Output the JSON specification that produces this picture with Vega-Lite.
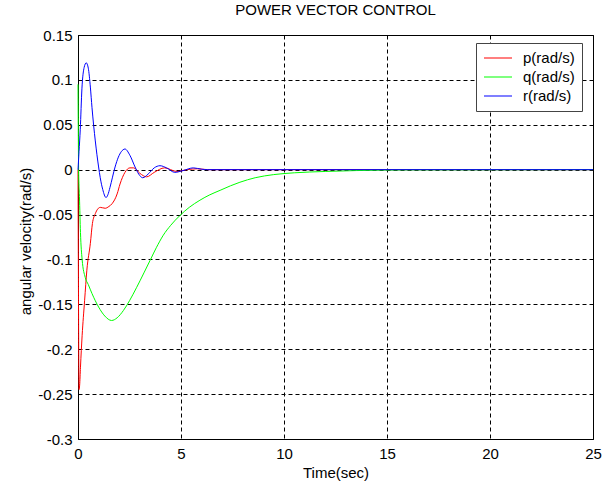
{
  "$schema": "https://vega.github.io/schema/vega-lite/v6.json",
  "autosize": {"type": "none"},
  "padding": {"left": 78, "top": 35, "right": 18, "bottom": 45},
  "width": 515,
  "height": 404,
  "background": "white",
  "title": {"text": "POWER VECTOR CONTROL", "fontSize": 15, "fontWeight": "normal", "font": "Liberation Sans", "color": "black", "offset": 10},
  "config": {
    "font": "Liberation Sans",
    "view": {"stroke": "black", "strokeWidth": 1},
    "axis": {
      "domainColor": "black", "gridColor": "black", "gridDash": [4, 3], "gridOpacity": 1, "gridWidth": 1,
      "ticks": false, "labelColor": "black", "titleColor": "black", "labelFontSize": 15, "titleFontSize": 15,
      "titleFontWeight": "normal", "labelFont": "Liberation Sans", "titleFont": "Liberation Sans"
    }
  },
  "datasets": {
    "curves": [
      {"t": 0, "v": 0, "s": "p(rad/s)"},
      {"t": 0.02, "v": -0.12, "s": "p(rad/s)"},
      {"t": 0.05, "v": -0.245, "s": "p(rad/s)"},
      {"t": 0.08, "v": -0.24, "s": "p(rad/s)"},
      {"t": 0.12, "v": -0.22, "s": "p(rad/s)"},
      {"t": 0.2, "v": -0.185, "s": "p(rad/s)"},
      {"t": 0.32, "v": -0.146, "s": "p(rad/s)"},
      {"t": 0.43, "v": -0.112, "s": "p(rad/s)"},
      {"t": 0.6, "v": -0.082, "s": "p(rad/s)"},
      {"t": 0.7, "v": -0.06, "s": "p(rad/s)"},
      {"t": 0.84, "v": -0.049, "s": "p(rad/s)"},
      {"t": 1.08, "v": -0.042, "s": "p(rad/s)"},
      {"t": 1.32, "v": -0.043, "s": "p(rad/s)"},
      {"t": 1.5, "v": -0.041, "s": "p(rad/s)"},
      {"t": 1.65, "v": -0.038, "s": "p(rad/s)"},
      {"t": 1.9, "v": -0.027, "s": "p(rad/s)"},
      {"t": 2.04, "v": -0.016, "s": "p(rad/s)"},
      {"t": 2.28, "v": -0.003, "s": "p(rad/s)"},
      {"t": 2.52, "v": 0.002, "s": "p(rad/s)"},
      {"t": 2.7, "v": 0.002, "s": "p(rad/s)"},
      {"t": 3.0, "v": -0.004, "s": "p(rad/s)"},
      {"t": 3.33, "v": -0.008, "s": "p(rad/s)"},
      {"t": 3.7, "v": -0.003, "s": "p(rad/s)"},
      {"t": 4.2, "v": 0.002, "s": "p(rad/s)"},
      {"t": 4.8, "v": -0.002, "s": "p(rad/s)"},
      {"t": 5.3, "v": 0, "s": "p(rad/s)"},
      {"t": 5.8, "v": 0.001, "s": "p(rad/s)"},
      {"t": 6.3, "v": 0, "s": "p(rad/s)"},
      {"t": 25, "v": 0, "s": "p(rad/s)"},
      {"t": 0, "v": 0.095, "s": "q(rad/s)"},
      {"t": 0.03, "v": 0.0, "s": "q(rad/s)"},
      {"t": 0.07, "v": -0.03, "s": "q(rad/s)"},
      {"t": 0.12, "v": -0.07, "s": "q(rad/s)"},
      {"t": 0.2, "v": -0.1, "s": "q(rad/s)"},
      {"t": 0.35, "v": -0.12, "s": "q(rad/s)"},
      {"t": 0.5, "v": -0.128, "s": "q(rad/s)"},
      {"t": 0.68, "v": -0.138, "s": "q(rad/s)"},
      {"t": 1.0, "v": -0.153, "s": "q(rad/s)"},
      {"t": 1.3, "v": -0.163, "s": "q(rad/s)"},
      {"t": 1.63, "v": -0.168, "s": "q(rad/s)"},
      {"t": 1.9, "v": -0.165, "s": "q(rad/s)"},
      {"t": 2.2, "v": -0.157, "s": "q(rad/s)"},
      {"t": 2.5, "v": -0.146, "s": "q(rad/s)"},
      {"t": 2.85, "v": -0.131, "s": "q(rad/s)"},
      {"t": 3.2, "v": -0.115, "s": "q(rad/s)"},
      {"t": 3.5, "v": -0.101, "s": "q(rad/s)"},
      {"t": 3.8, "v": -0.087, "s": "q(rad/s)"},
      {"t": 4.14, "v": -0.073, "s": "q(rad/s)"},
      {"t": 4.5, "v": -0.062, "s": "q(rad/s)"},
      {"t": 4.95, "v": -0.051, "s": "q(rad/s)"},
      {"t": 5.4, "v": -0.042, "s": "q(rad/s)"},
      {"t": 5.92, "v": -0.034, "s": "q(rad/s)"},
      {"t": 6.4, "v": -0.028, "s": "q(rad/s)"},
      {"t": 6.9, "v": -0.023, "s": "q(rad/s)"},
      {"t": 7.4, "v": -0.018, "s": "q(rad/s)"},
      {"t": 7.86, "v": -0.014, "s": "q(rad/s)"},
      {"t": 8.6, "v": -0.009, "s": "q(rad/s)"},
      {"t": 9.5, "v": -0.0055, "s": "q(rad/s)"},
      {"t": 10.5, "v": -0.0035, "s": "q(rad/s)"},
      {"t": 12, "v": -0.002, "s": "q(rad/s)"},
      {"t": 13.5, "v": -0.001, "s": "q(rad/s)"},
      {"t": 16, "v": -0.0003, "s": "q(rad/s)"},
      {"t": 25, "v": 0, "s": "q(rad/s)"},
      {"t": 0, "v": 0, "s": "r(rad/s)"},
      {"t": 0.05, "v": 0.02, "s": "r(rad/s)"},
      {"t": 0.11, "v": 0.045, "s": "r(rad/s)"},
      {"t": 0.19, "v": 0.09, "s": "r(rad/s)"},
      {"t": 0.3, "v": 0.114, "s": "r(rad/s)"},
      {"t": 0.4, "v": 0.119, "s": "r(rad/s)"},
      {"t": 0.5, "v": 0.113, "s": "r(rad/s)"},
      {"t": 0.6, "v": 0.092, "s": "r(rad/s)"},
      {"t": 0.68, "v": 0.069, "s": "r(rad/s)"},
      {"t": 0.84, "v": 0.032, "s": "r(rad/s)"},
      {"t": 1.0, "v": 0.003, "s": "r(rad/s)"},
      {"t": 1.08, "v": -0.009, "s": "r(rad/s)"},
      {"t": 1.2, "v": -0.022, "s": "r(rad/s)"},
      {"t": 1.36, "v": -0.031, "s": "r(rad/s)"},
      {"t": 1.45, "v": -0.028, "s": "r(rad/s)"},
      {"t": 1.55, "v": -0.02, "s": "r(rad/s)"},
      {"t": 1.8, "v": 0.003, "s": "r(rad/s)"},
      {"t": 1.96, "v": 0.014, "s": "r(rad/s)"},
      {"t": 2.1, "v": 0.02, "s": "r(rad/s)"},
      {"t": 2.28, "v": 0.023, "s": "r(rad/s)"},
      {"t": 2.52, "v": 0.016, "s": "r(rad/s)"},
      {"t": 2.77, "v": 0.003, "s": "r(rad/s)"},
      {"t": 2.95, "v": -0.005, "s": "r(rad/s)"},
      {"t": 3.14, "v": -0.009, "s": "r(rad/s)"},
      {"t": 3.4, "v": -0.005, "s": "r(rad/s)"},
      {"t": 3.7, "v": 0.002, "s": "r(rad/s)"},
      {"t": 3.98, "v": 0.0044, "s": "r(rad/s)"},
      {"t": 4.3, "v": 0.002, "s": "r(rad/s)"},
      {"t": 4.7, "v": -0.003, "s": "r(rad/s)"},
      {"t": 5.1, "v": -0.001, "s": "r(rad/s)"},
      {"t": 5.6, "v": 0.002, "s": "r(rad/s)"},
      {"t": 6.0, "v": 0.0005, "s": "r(rad/s)"},
      {"t": 6.3, "v": 0, "s": "r(rad/s)"},
      {"t": 25, "v": 0, "s": "r(rad/s)"}
    ]
  },
  "data": {"name": "curves"},
  "mark": {"type": "line", "strokeWidth": 1, "interpolate": "monotone"},
  "encoding": {
    "x": {
      "field": "t", "type": "quantitative", "title": "Time(sec)",
      "scale": {"domain": [0, 25], "nice": false, "zero": false},
      "axis": {"values": [0, 5, 10, 15, 20, 25], "labelPadding": 7, "titlePadding": 4, "labelFlush": false}
    },
    "y": {
      "field": "v", "type": "quantitative", "title": "angular velocity(rad/s)",
      "scale": {"domain": [-0.3, 0.15], "nice": false, "zero": false},
      "axis": {
        "values": [-0.3, -0.25, -0.2, -0.15, -0.1, -0.05, 0, 0.05, 0.1, 0.15],
        "labelExpr": "replace(format(datum.value, '~g'), '\u2212', '-')",
        "labelPadding": 6, "titlePadding": 4, "titleY": 206, "labelFlush": false
      }
    },
    "color": {
      "field": "s", "type": "nominal",
      "scale": {"domain": ["p(rad/s)", "q(rad/s)", "r(rad/s)"], "range": ["#ff0000", "#00ff00", "#0000ff"]},
      "legend": {
        "title": null, "orient": "none", "legendX": 398, "legendY": 8,
        "symbolType": "stroke", "symbolSize": 784, "symbolStrokeWidth": 1.2,
        "labelFontSize": 15, "labelColor": "black", "labelOffset": 10,
        "strokeColor": "#444", "fillColor": "white", "padding": 7,
        "clipHeight": 16, "rowPadding": 3
      }
    }
  }
}
